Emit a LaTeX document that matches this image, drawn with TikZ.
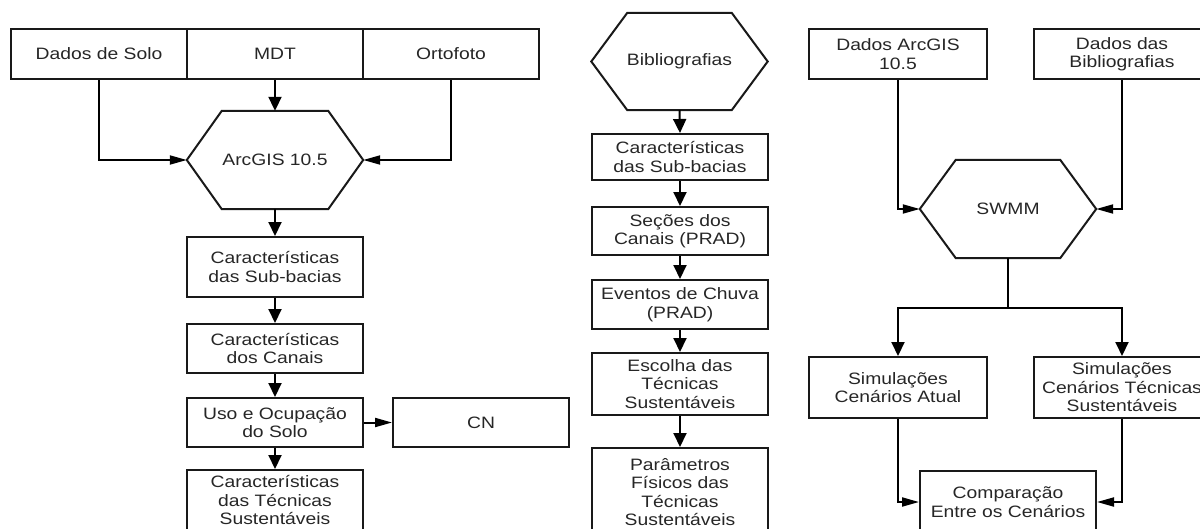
\documentclass[tikz,border=0pt]{standalone}
\usepackage{fontspec}
\setmainfont{Liberation Sans}[FakeStretch=1.17]
\usetikzlibrary{arrows.meta,calc}
\tikzset{
  box/.style={draw=black!90, line width=2pt, rectangle, minimum width=176pt, inner sep=0pt, align=center, text=black!85, font=\fontsize{16.5}{18.5}\selectfont},
  hexbox/.style={rectangle, minimum width=176pt, minimum height=98pt, inner sep=0pt, align=center, text=black!85, font=\fontsize{16.5}{18.5}\selectfont},
  hexline/.style={draw=black!90, line width=2pt, line join=miter},
  conn/.style={draw=black, line width=2pt},
  varr/.style={conn, -{Triangle[length=14pt,width=13pt]}},
  harr/.style={conn, -{Triangle[length=17pt,width=9pt]}}
}
\newcommand{\hexdraw}[2]{%
  \draw[hexline] (#1.west) -- ([xshift=#2]#1.north west) -- ([xshift=-#2]#1.north east) -- (#1.east) -- ([xshift=-#2]#1.south east) -- ([xshift=#2]#1.south west) -- cycle;}
\begin{document}
\begin{tikzpicture}[x=1pt,y=-1pt]
\useasboundingbox (0,0) rectangle (1200,528);
% left column
\node[box, minimum height=50pt] (sol) at (99,54) {Dados de Solo};
\node[box, minimum height=50pt] (mdt) at (275,54) {MDT};
\node[box, minimum height=50pt] (orto) at (451,54) {Ortofoto};
\node[hexbox] (arc) at (275,160) {ArcGIS 10.5};
\hexdraw{arc}{35pt}
\node[box, minimum height=60pt] (l1) at (275,267) {Características\\das Sub-bacias};
\node[box, minimum height=49pt] (l2) at (275,348.5) {Características\\dos Canais};
\node[box, minimum height=49pt] (l3) at (275,422.5) {Uso e Ocupação\\do Solo};
\node[box, minimum height=49pt] (cn) at (481,422.5) {CN};
\node[box, minimum height=60pt] (l4) at (275,500) {Características\\das Técnicas\\Sustentáveis};
\draw[harr] (sol.south) |- (arc.west);
\draw[varr] (mdt.south) -- (arc.north);
\draw[harr] (orto.south) |- (arc.east);
\draw[varr] (arc.south) -- (l1.north);
\draw[varr] (l1.south) -- (l2.north);
\draw[varr] (l2.south) -- (l3.north);
\draw[harr] (l3.east) -- (cn.west);
\draw[varr] (l3.south) -- (l4.north);
% middle column
\node[hexbox, minimum height=97pt] (bib) at (679.5,61.5) {Bibliografias};
\hexdraw{bib}{36pt}
\node[box, minimum height=46pt] (m1) at (680,157) {Características\\das Sub-bacias};
\node[box, minimum height=48pt] (m2) at (680,231) {Seções dos\\Canais (PRAD)};
\node[box, minimum height=49pt] (m3) at (680,304.5) {Eventos de Chuva\\(PRAD)};
\node[box, minimum height=62pt] (m4) at (680,384) {Escolha das\\Técnicas\\Sustentáveis};
\node[box, minimum height=88pt] (m5) at (680,492) {Parâmetros\\Físicos das\\Técnicas\\Sustentáveis};
\draw[varr] (bib.south) -- (m1.north);
\draw[varr] (m1.south) -- (m2.north);
\draw[varr] (m2.south) -- (m3.north);
\draw[varr] (m3.south) -- (m4.north);
\draw[varr] (m4.south) -- (m5.north);
% right column
\node[box, minimum height=50pt, minimum width=178pt] (da) at (898,54) {Dados ArcGIS\\10.5};
\node[box, minimum height=50pt] (db) at (1122,54) {Dados das\\Bibliografias};
\node[hexbox] (sw) at (1008,209) {SWMM};
\hexdraw{sw}{36pt}
\node[box, minimum height=61pt, minimum width=178pt] (sa) at (898,387.5) {Simulações\\Cenários Atual};
\node[box, minimum height=61pt] (st) at (1122,387.5) {Simulações\\Cenários Técnicas\\Sustentáveis};
\node[box, minimum height=62pt] (cmp) at (1008,502) {Comparação\\Entre os Cenários};
\coordinate (split) at (1008,308);
\draw[harr] (da.south) |- (sw.west);
\draw[harr] (db.south) |- (sw.east);
\draw[conn] (sw.south) -- (split);
\draw[varr] (split) -| (sa.north);
\draw[varr] (split) -| (st.north);
\draw[harr] (sa.south) |- (cmp.west);
\draw[harr] (st.south) |- (cmp.east);
\end{tikzpicture}
\end{document}
